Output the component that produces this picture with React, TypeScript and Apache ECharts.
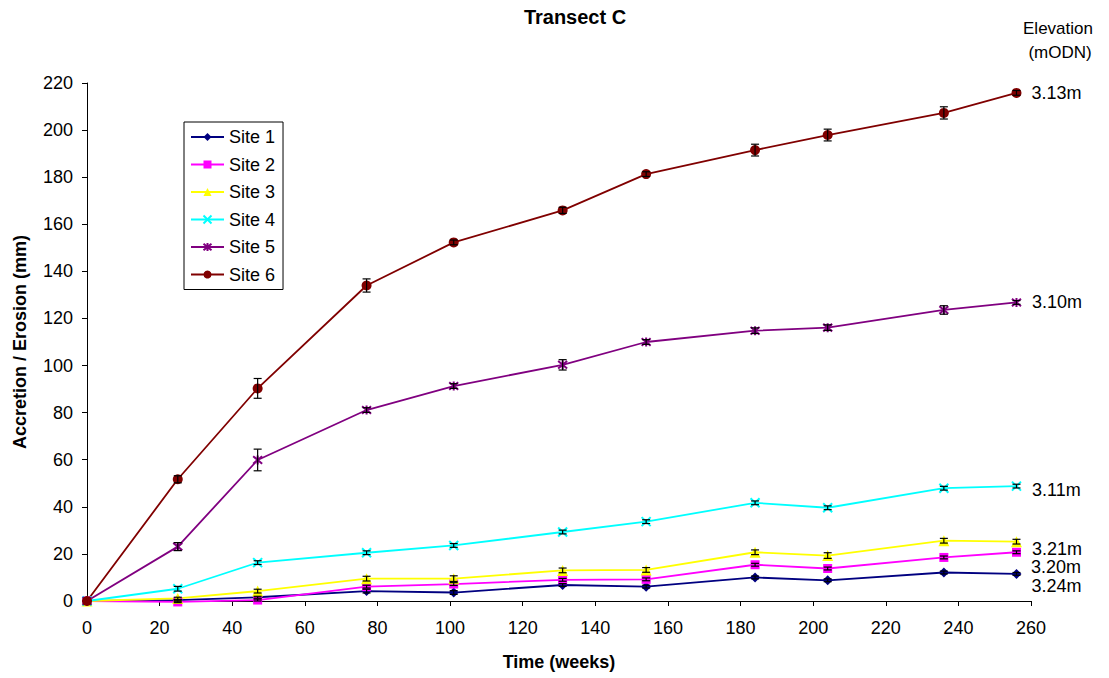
import React, { useEffect, useRef } from "react";
import * as echarts from "echarts";

const weeks = [0, 25, 47, 77, 101, 131, 154, 184, 204, 236, 256];

const siteNames = ["Site 1", "Site 2", "Site 3", "Site 4", "Site 5", "Site 6"];
const site1 = [0, 0.4, 1.6, 4.2, 3.6, 6.8, 6.1, 10.0, 8.8, 12.1, 11.5];
const site2 = [0, -0.4, 0.4, 6.1, 7.2, 9.0, 9.2, 15.4, 13.8, 18.5, 20.7];
const site3 = [0, 1.1, 4.2, 9.5, 9.5, 13.0, 13.2, 20.7, 19.3, 25.6, 25.2];
const site4 = [0, 5.2, 16.3, 20.5, 23.6, 29.3, 33.7, 41.7, 39.6, 47.9, 48.8];
const site5 = [0, 23.1, 59.9, 81.1, 91.3, 100.3, 110.0, 114.8, 116.1, 123.6, 126.8];
const site6 = [0, 51.7, 90.3, 134.0, 152.3, 165.9, 181.3, 191.5, 197.9, 207.3, 215.8];

const err1 = [0, 0.3, 0.4, 0.8, 0.8, 0.6, 0.6, 0.6, 0.6, 0.6, 0.6];
const err2 = [0, 0.3, 0.4, 0.6, 0.6, 0.6, 0.6, 0.6, 0.6, 0.6, 0.6];
const err3 = [0, 0.5, 0.8, 1.0, 1.2, 1.0, 1.0, 1.0, 1.2, 1.0, 1.0];
const err4 = [0, 1.0, 0.8, 0.8, 0.8, 0.8, 0.8, 0.8, 0.8, 0.8, 0.8];
const err5 = [0, 1.7, 4.6, 1.0, 1.0, 2.2, 1.0, 1.2, 1.2, 1.8, 0.8];
const err6 = [0, 1.5, 4.2, 2.8, 1.0, 1.3, 1.0, 2.5, 2.5, 2.6, 1.0];

const elevations = ["3.24m", "3.20m", "3.21m", "3.11m", "3.10m", "3.13m"];

const xTicks = { min: 0, max: 260, interval: 20 };
const yTicks = { min: 0, max: 220, interval: 20 };

const allSites = [site1, site2, site3, site4, site5, site6];
const allErrs = [err1, err2, err3, err4, err5, err6];

// styles (not data)
const colors = ["#000080", "#FF00FF", "#FFFF00", "#00FFFF", "#800080", "#800000"];
const symbols = [
  "diamond",
  "rect",
  "triangle",
  "path://M0,0L10,10M10,0L0,10",
  "path://M0,0L10,10M10,0L0,10M5,-1L5,11",
  "circle",
];
const symbolSizes = [10, 9, 11, 9, 9, 10];
const labelOffsets = [12, 15, 7, 4, 0, 0];

const FONT = "'Liberation Sans', Arial, sans-serif";

export default function App() {
  const ref = useRef<HTMLDivElement>(null);

  useEffect(() => {
    if (!ref.current) return;
    const chart = echarts.init(ref.current, undefined, { renderer: "svg" });

    const lineSeries = allSites.map((vals, si) => {
      const last = vals.length - 1;
      const isStroke = si === 3 || si === 4;
      return {
        name: siteNames[si],
        type: "line",
        clip: false,
        z: 3,
        symbol: symbols[si],
        symbolSize: symbolSizes[si],
        lineStyle: { color: colors[si], width: 1.8 },
        itemStyle: isStroke
          ? { color: colors[si], borderColor: colors[si], borderWidth: 2 }
          : { color: colors[si] },
        data: vals.map((v, i) =>
          i === last
            ? {
                value: [weeks[i], v],
                label: {
                  show: true,
                  position: "right",
                  distance: 10,
                  offset: [0, labelOffsets[si]],
                  formatter: elevations[si],
                  fontSize: 18,
                  fontFamily: FONT,
                  color: "#000",
                },
              }
            : [weeks[i], v]
        ),
      };
    });

    const errSeries = allSites.map((vals, si) => ({
      name: siteNames[si] + " err",
      type: "custom",
      z: 4,
      clip: false,
      encode: { x: 0, y: [1, 2] },
      renderItem: (params: any, api: any) => {
        const x = api.value(0);
        const lo = api.value(1);
        const hi = api.value(2);
        const top = api.coord([x, hi]);
        const bot = api.coord([x, lo]);
        const w = 4;
        const st = { stroke: "#000", lineWidth: 1.2 };
        return {
          type: "group",
          children: [
            { type: "line", shape: { x1: top[0], y1: top[1], x2: bot[0], y2: bot[1] }, style: st },
            { type: "line", shape: { x1: top[0] - w, y1: top[1], x2: top[0] + w, y2: top[1] }, style: st },
            { type: "line", shape: { x1: bot[0] - w, y1: bot[1], x2: bot[0] + w, y2: bot[1] }, style: st },
          ],
        };
      },
      data: vals
        .map((v, i) => [weeks[i], v - allErrs[si][i], v + allErrs[si][i]])
        .filter((d, i) => allErrs[si][i] > 0),
    }));

    chart.setOption({
      animation: false,
      backgroundColor: "#fff",
      textStyle: { fontFamily: FONT },
      grid: { left: 87, right: 78, top: 83, bottom: 77, containLabel: false },
      graphic: [
        {
          type: "text",
          x: 575,
          y: 17,
          style: {
            text: "Transect C",
            font: `bold 20px ${FONT}`,
            fill: "#000",
            textAlign: "center",
            textVerticalAlign: "middle",
          },
        },
        {
          type: "text",
          x: 1058,
          y: 28,
          style: {
            text: "Elevation",
            font: `17px ${FONT}`,
            fill: "#000",
            textAlign: "center",
            textVerticalAlign: "middle",
          },
        },
        {
          type: "text",
          x: 1060,
          y: 52,
          style: {
            text: "(mODN)",
            font: `17px ${FONT}`,
            fill: "#000",
            textAlign: "center",
            textVerticalAlign: "middle",
          },
        },
      ],
      legend: {
        data: siteNames,
        orient: "vertical",
        left: 184,
        top: 122,
        borderColor: "#000",
        borderWidth: 1,
        padding: [6, 8, 6, 6],
        itemWidth: 33,
        itemHeight: 10,
        itemGap: 9.5,
        textStyle: { fontSize: 18, color: "#000", fontFamily: FONT },
      },
      xAxis: {
        type: "value",
        min: xTicks.min,
        max: xTicks.max,
        interval: xTicks.interval,
        name: "Time (weeks)",
        nameLocation: "middle",
        nameGap: 52,
        nameTextStyle: { fontSize: 18, fontWeight: "bold", color: "#000", fontFamily: FONT },
        axisLine: { show: true, lineStyle: { color: "#000", width: 1 } },
        axisTick: { show: true, length: 5, lineStyle: { color: "#000" } },
        axisLabel: { fontSize: 18, color: "#000", margin: 18, fontFamily: FONT },
        splitLine: { show: false },
      },
      yAxis: {
        type: "value",
        min: yTicks.min,
        max: yTicks.max,
        interval: yTicks.interval,
        name: "Accretion / Erosion (mm)",
        nameLocation: "middle",
        nameGap: 58,
        nameTextStyle: { fontSize: 18, fontWeight: "bold", color: "#000", fontFamily: FONT },
        axisLine: { show: true, lineStyle: { color: "#000", width: 1 } },
        axisTick: { show: true, length: 5, lineStyle: { color: "#000" } },
        axisLabel: { fontSize: 18, color: "#000", margin: 14, fontFamily: FONT },
        splitLine: { show: false },
      },
      series: [...lineSeries, ...errSeries],
    });

    return () => chart.dispose();
  }, []);

  return <div ref={ref} style={{ width: 1109, height: 678, position: "absolute", left: 0, top: 0 }} />;
}
